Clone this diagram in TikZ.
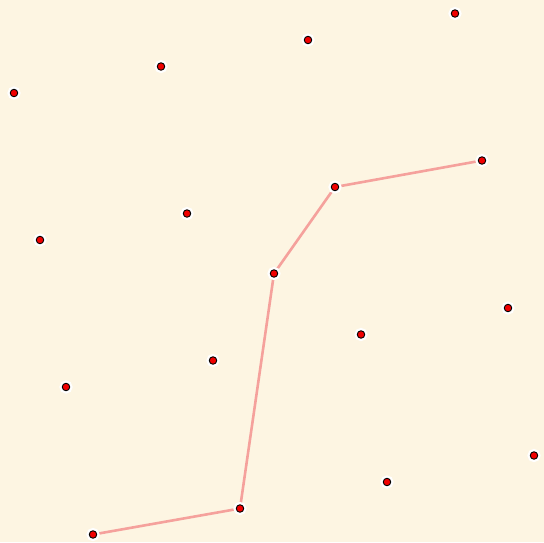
\documentclass[tikz,border=0pt]{standalone}
\usepackage{tikz}
\usetikzlibrary{backgrounds}
\definecolor{creme}{HTML}{FDF5E2}
\definecolor{pfad}{HTML}{F5A19C}
\definecolor{punkt}{HTML}{F00000}

\begin{document}
\begin{tikzpicture}[
        x=1pt, y=-1pt,
        dot/.style={circle, inner sep=0pt, minimum size=7.5pt, fill=punkt,
                    draw=black, line width=0.9pt,
                    preaction={draw=white, line width=5.5pt}},
        weg/.style={line width=2.6pt, pfad},
      ]
      \useasboundingbox (0,0) rectangle (544,542);

      % Gitterpunkte
      \foreach \n/\px/\py in {a/455/13.5, b/308/40, c/161/66.5, d/14/93,
                              e/482/160.5, f/335/187, g/187/213.5, h/40/240,
                              i/508/308, j/274/273.5, k/361/334.5, l/213/360.5,
                              m/66/387, n/534/455.5, o/387/482, q/240/508.5,
                              r/93/534.5}
        \node[dot] (\n) at (\px,\py) {};

      % Hintergrund und Pfad
      \begin{scope}[on background layer]
        \fill[creme] (0,0) rectangle (544,542);
        \draw[weg] (e) -- (f) -- (j) -- (q) -- (r);
      \end{scope}
    \end{tikzpicture}
\end{document}
